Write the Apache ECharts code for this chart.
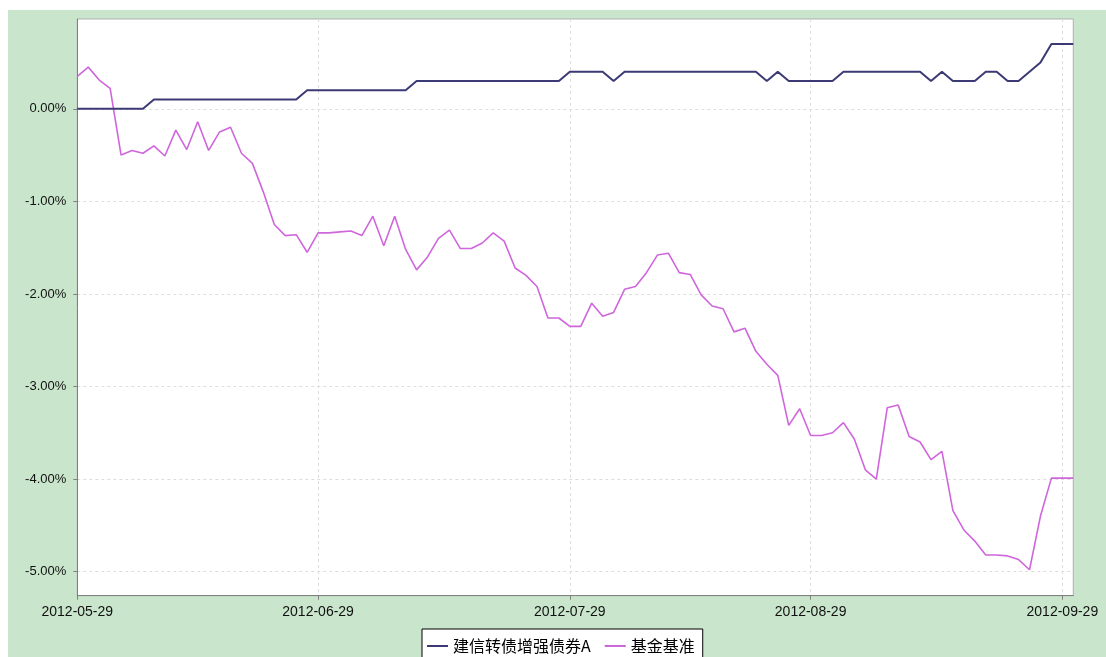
<!DOCTYPE html>
<html>
<head>
<meta charset="utf-8">
<script src="https://cdn.jsdelivr.net/npm/echarts@6/dist/echarts.min.js"></script>
<style>
html,body{margin:0;padding:0;background:#fff;width:1106px;height:657px;overflow:hidden;}
#c{position:absolute;left:8px;top:10px;width:1098px;height:647px;}
</style>
</head>
<body>
<div id="c"></div>
<script>
// Tick labels on the x axis and the point index where each sits
const tickLabels = ['2012-05-29', '2012-06-29', '2012-07-29', '2012-08-29', '2012-09-29'];
const tickIndex = [0, 22, 45, 67, 90];
const yTicks = [0, -1, -2, -3, -4, -5];
const seriesNames = ['建信转债增强债券A', '基金基准'];

// Fund cumulative return (%)
const fundValues = [
  0, 0, 0, 0, 0, 0, 0,
  0.1, 0.1, 0.1, 0.1, 0.1, 0.1, 0.1, 0.1, 0.1, 0.1, 0.1, 0.1, 0.1, 0.1,
  0.2, 0.2, 0.2, 0.2, 0.2, 0.2, 0.2, 0.2, 0.2, 0.2,
  0.3, 0.3, 0.3, 0.3, 0.3, 0.3, 0.3, 0.3, 0.3, 0.3, 0.3, 0.3, 0.3, 0.3,
  0.4, 0.4, 0.4, 0.4,
  0.3,
  0.4, 0.4, 0.4, 0.4, 0.4, 0.4, 0.4, 0.4, 0.4, 0.4, 0.4, 0.4, 0.4,
  0.3,
  0.4,
  0.3, 0.3, 0.3, 0.3, 0.3,
  0.4, 0.4, 0.4, 0.4, 0.4, 0.4, 0.4, 0.4,
  0.3,
  0.4,
  0.3, 0.3, 0.3,
  0.4, 0.4,
  0.3, 0.3,
  0.4,
  0.5,
  0.7, 0.7, 0.7
];

// Benchmark cumulative return (%)
const benchValues = [
  0.35, 0.45, 0.31, 0.22, -0.50, -0.45, -0.48, -0.40, -0.51, -0.23,
  -0.44, -0.14, -0.45, -0.25, -0.20, -0.48, -0.59, -0.90, -1.25, -1.37,
  -1.36, -1.55, -1.34, -1.34, -1.33, -1.32, -1.37, -1.16, -1.48, -1.16,
  -1.52, -1.74, -1.60, -1.40, -1.31, -1.51, -1.51, -1.45, -1.34, -1.43,
  -1.72, -1.80, -1.92, -2.26, -2.26, -2.35, -2.35, -2.10, -2.24, -2.20,
  -1.95, -1.92, -1.77, -1.58, -1.56, -1.77, -1.79, -2.01, -2.13, -2.16,
  -2.41, -2.37, -2.62, -2.76, -2.88, -3.42, -3.24, -3.53, -3.53, -3.50,
  -3.39, -3.57, -3.90, -4.00, -3.23, -3.20, -3.54, -3.60, -3.79, -3.70,
  -4.34, -4.55, -4.67, -4.82, -4.82, -4.83, -4.87, -4.98, -4.40, -3.99,
  -3.99, -3.99
];

const categories = fundValues.map((_, i) => String(i));
const isTick = (i) => tickIndex.indexOf(i) >= 0;

const chart = echarts.init(document.getElementById('c'));
chart.setOption({
  backgroundColor: '#c9e6cc',
  animation: false,
  textStyle: { fontFamily: 'Liberation Sans, Arial, sans-serif' },
  grid: {
    left: 69.3, right: 32.7, top: 9, bottom: 61.3,
    show: true, backgroundColor: '#ffffff', borderColor: '#b0b0b0', borderWidth: 1
  },
  legend: {
    data: seriesNames,
    left: 414, top: 619,
    backgroundColor: '#ffffff', borderColor: '#000', borderWidth: 1,
    padding: [9, 8, 9, 5],
    itemGap: 14, itemWidth: 21, itemHeight: 2, icon: 'rect',
    textStyle: { fontSize: 16, color: '#000', fontFamily: 'Noto Sans CJK SC, sans-serif' }
  },
  xAxis: {
    type: 'category',
    data: categories,
    boundaryGap: false,
    axisLine: { onZero: false, lineStyle: { color: '#808080', width: 1 } },
    axisTick: { show: true, length: 4, interval: (i) => isTick(i), lineStyle: { color: '#808080' } },
    axisLabel: {
      interval: (i) => isTick(i), margin: 9, fontSize: 14, color: '#111',
      formatter: (v, i) => tickLabels[tickIndex.indexOf(i)] || ''
    },
    splitLine: { show: true, interval: (i) => isTick(i), lineStyle: { color: '#dddddd', type: [3, 3] } }
  },
  yAxis: {
    type: 'value',
    min: -5.26, max: 0.97,
    axisLine: { show: true, lineStyle: { color: '#808080', width: 1 } },
    axisTick: { show: true, length: 4, customValues: yTicks, lineStyle: { color: '#808080' } },
    axisLabel: {
      customValues: yTicks, margin: 11, fontSize: 13, color: '#111',
      formatter: (v) => v.toFixed(2) + '%'
    },
    splitLine: { show: true, lineStyle: { color: '#dddddd', type: [3, 3] } }
  },
  series: [
    {
      name: seriesNames[0], type: 'line', data: fundValues,
      symbol: 'none', color: '#3b3a75', lineStyle: { width: 2, color: '#3b3a75' }, z: 3
    },
    {
      name: seriesNames[1], type: 'line', data: benchValues,
      symbol: 'none', color: '#cf66dc', lineStyle: { width: 1.6, color: '#cf66dc' }, z: 2
    }
  ]
});
</script>
</body>
</html>
